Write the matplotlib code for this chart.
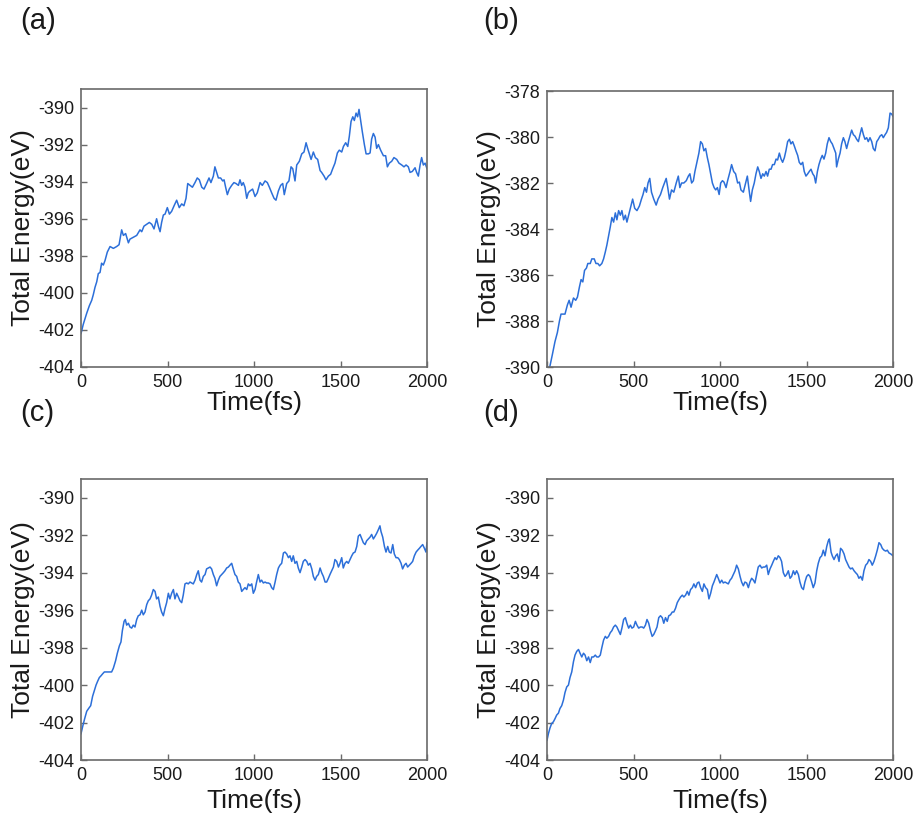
import matplotlib
matplotlib.use("Agg")
import matplotlib.pyplot as plt

plt.rcParams['font.family'] = ['Liberation Sans', 'DejaVu Sans']
plt.rcParams['axes.unicode_minus'] = False

# (time fs, total energy eV)
pts_a = [
    (0, -402.2), (13, -401.7), (33, -401.1), (48, -400.7), (62, -400.4), (71, -400.1), (81, -399.7),
    (91, -399.4), (100, -398.96), (110, -398.9), (119, -398.4), (129, -398.5), (139, -398.25),
    (152, -397.8), (168, -397.5), (187, -397.6), (206, -397.5), (220, -397.4), (235, -396.6),
    (245, -396.9), (258, -396.8), (274, -397.3), (283, -397.1), (303, -397.0), (322, -396.9),
    (341, -396.6), (351, -396.7), (364, -396.4), (380, -396.3), (395, -396.2), (409, -396.3),
    (422, -396.55), (437, -396.0), (447, -396.4), (457, -396.7), (466, -396.2), (476, -395.8),
    (486, -395.75), (499, -395.4), (511, -395.75), (524, -395.6), (538, -395.3), (553, -395.0),
    (568, -395.4), (582, -395.2), (595, -395.3), (607, -394.9), (617, -394.1), (630, -394.2),
    (644, -394.3), (659, -394.05), (672, -393.8), (684, -393.9), (698, -394.3), (711, -394.4),
    (726, -394.1), (740, -393.8), (751, -394.05), (765, -393.7), (774, -393.2), (784, -393.5),
    (794, -393.8), (807, -393.8), (819, -393.96), (827, -393.9), (836, -394.3), (846, -394.7),
    (857, -394.4), (871, -394.2), (884, -394.05), (896, -394.1), (910, -394.2), (919, -393.9),
    (929, -394.2), (938, -394.05), (948, -394.3), (958, -394.9), (967, -394.6), (977, -394.5),
    (992, -394.4), (1006, -394.8), (1019, -394.6), (1035, -394.05), (1048, -394.2), (1064, -393.96),
    (1077, -394.05), (1089, -394.3), (1102, -394.6), (1116, -394.9), (1127, -395.0), (1141, -394.5),
    (1154, -394.2), (1166, -394.1), (1175, -394.7), (1189, -394.1), (1202, -393.96), (1214, -393.2),
    (1224, -393.3), (1237, -393.96), (1247, -393.1), (1262, -392.9), (1276, -392.5), (1289, -392.4),
    (1301, -391.9), (1310, -392.2), (1320, -392.5), (1330, -392.8), (1343, -392.4), (1355, -392.7),
    (1368, -392.8), (1382, -393.4), (1391, -393.5), (1405, -393.7), (1416, -393.9), (1430, -393.7),
    (1443, -393.6), (1455, -393.3), (1468, -393.0), (1482, -392.45), (1493, -392.3), (1507, -392.4),
    (1517, -392.1), (1530, -391.9), (1542, -392.1), (1551, -391.55), (1561, -390.75), (1571, -390.5),
    (1580, -390.7), (1590, -390.3), (1599, -390.5), (1607, -390.1), (1617, -390.75), (1626, -391.3),
    (1638, -392.0), (1648, -392.5), (1661, -392.5), (1671, -392.45), (1680, -391.7), (1690, -391.4),
    (1700, -391.6), (1709, -392.2), (1719, -392.0), (1732, -392.3), (1748, -392.6), (1761, -392.6),
    (1771, -393.2), (1782, -393.0), (1796, -392.9), (1809, -392.7), (1825, -392.8), (1838, -393.0),
    (1854, -393.1), (1867, -393.2), (1879, -393.1), (1892, -393.2), (1902, -393.5), (1915, -393.45),
    (1931, -393.25), (1940, -393.5), (1950, -393.7), (1960, -393.1), (1969, -392.7), (1979, -393.1),
    (1989, -393.0), (2000, -393.3),
]

pts_b = [
    (0, -390.4), (17, -389.96), (31, -389.46), (46, -388.9), (60, -388.5), (72, -388.0), (81, -387.7),
    (95, -387.7), (104, -387.7), (118, -387.3), (128, -387.1), (139, -387.4), (153, -387.0),
    (166, -387.1), (176, -386.96), (188, -386.5), (197, -386.2), (207, -386.3), (217, -385.8),
    (228, -385.7), (236, -385.5), (250, -385.5), (259, -385.3), (273, -385.3), (283, -385.5),
    (294, -385.5), (304, -385.6), (317, -385.5), (327, -385.3), (337, -385.0), (346, -384.7),
    (356, -384.3), (366, -383.9), (375, -383.5), (385, -383.7), (395, -383.3), (404, -383.6),
    (414, -383.2), (424, -383.4), (433, -383.2), (443, -383.6), (453, -383.4), (462, -383.7),
    (472, -383.4), (482, -383.1), (495, -382.7), (507, -383.1), (520, -383.2), (534, -383.0),
    (546, -382.7), (555, -382.5), (565, -382.2), (575, -382.4), (584, -382.0), (594, -381.8),
    (604, -382.4), (617, -382.7), (631, -382.96), (642, -382.7), (656, -382.5), (669, -382.2),
    (679, -382.0), (689, -381.8), (698, -382.2), (708, -382.7), (720, -382.3), (733, -382.4),
    (747, -382.0), (759, -381.7), (768, -382.2), (778, -382.0), (791, -382.0), (805, -381.9),
    (817, -381.7), (826, -381.6), (836, -382.0), (846, -381.9), (855, -381.5), (869, -381.0),
    (878, -380.7), (888, -380.2), (898, -380.3), (907, -380.6), (917, -380.5), (927, -380.9),
    (936, -381.2), (946, -381.6), (956, -382.0), (966, -382.2), (975, -382.3), (985, -382.2),
    (995, -382.5), (1004, -382.0), (1014, -381.9), (1023, -381.96), (1035, -382.2), (1044, -381.9),
    (1058, -381.5), (1067, -381.2), (1079, -381.5), (1090, -381.6), (1102, -382.0), (1112, -381.96),
    (1121, -382.3), (1135, -382.4), (1148, -382.0), (1158, -381.7), (1168, -382.3), (1177, -382.8),
    (1187, -382.3), (1198, -382.0), (1208, -381.6), (1218, -381.3), (1227, -381.5), (1237, -381.8),
    (1247, -381.6), (1256, -381.7), (1266, -381.5), (1275, -381.7), (1285, -381.4), (1295, -381.4),
    (1304, -381.2), (1314, -381.2), (1324, -380.96), (1333, -381.0), (1343, -380.7), (1353, -380.96),
    (1362, -381.1), (1372, -380.9), (1381, -380.6), (1391, -380.2), (1401, -380.1), (1410, -380.3),
    (1420, -380.2), (1430, -380.4), (1439, -380.6), (1449, -380.8), (1458, -381.1), (1468, -381.2),
    (1478, -381.1), (1487, -381.5), (1497, -381.7), (1507, -381.6), (1516, -381.5), (1526, -381.4),
    (1536, -381.6), (1545, -381.7), (1553, -382.0), (1563, -381.5), (1572, -381.2), (1582, -380.96),
    (1591, -380.8), (1601, -380.96), (1611, -380.7), (1620, -380.3), (1630, -380.03), (1640, -380.2),
    (1649, -380.3), (1659, -380.5), (1669, -380.7), (1674, -381.3), (1684, -380.96), (1694, -380.7),
    (1703, -380.3), (1713, -380.03), (1722, -380.2), (1732, -380.5), (1742, -380.2), (1751, -379.96),
    (1761, -379.7), (1771, -379.9), (1780, -379.96), (1790, -380.1), (1800, -380.2), (1809, -379.9),
    (1819, -379.6), (1829, -379.9), (1838, -380.1), (1848, -380.03), (1857, -380.2), (1867, -380.03),
    (1877, -380.2), (1886, -380.5), (1896, -380.6), (1906, -380.2), (1915, -380.1), (1925, -379.96),
    (1935, -379.9), (1944, -380.03), (1954, -379.9), (1963, -379.8), (1973, -379.6), (1983, -378.96),
    (1992, -379.0), (2000, -379.1),
]

pts_c = [
    (0, -402.6), (10, -402.2), (21, -401.8), (33, -401.4), (44, -401.25), (56, -401.1), (67, -400.6),
    (77, -400.3), (87, -400.0), (96, -399.8), (106, -399.6), (116, -399.5), (125, -399.4),
    (135, -399.3), (148, -399.3), (164, -399.3), (177, -399.3), (187, -399.1), (200, -398.7),
    (210, -398.3), (222, -397.9), (231, -397.7), (239, -397.1), (249, -396.6), (256, -396.5),
    (264, -396.8), (274, -396.7), (283, -396.9), (293, -396.96), (302, -396.8), (312, -396.9),
    (322, -396.5), (331, -396.3), (341, -396.25), (351, -396.0), (360, -396.25), (370, -396.1),
    (380, -395.7), (389, -395.5), (399, -395.4), (408, -395.2), (418, -394.9), (428, -395.0),
    (437, -395.4), (447, -395.3), (457, -395.8), (466, -396.1), (476, -396.3), (486, -395.9),
    (495, -395.6), (505, -395.1), (514, -395.4), (524, -395.1), (534, -394.9), (543, -395.4),
    (553, -395.1), (563, -395.3), (572, -395.5), (582, -395.6), (591, -395.2), (601, -394.6),
    (611, -394.55), (620, -394.6), (630, -394.5), (640, -394.55), (649, -394.6), (659, -394.4),
    (669, -394.1), (678, -393.9), (688, -394.4), (697, -394.5), (707, -394.2), (717, -394.1),
    (726, -393.8), (736, -393.75), (746, -393.7), (755, -393.8), (765, -394.1), (774, -394.3),
    (784, -394.7), (794, -394.4), (803, -394.2), (813, -394.1), (823, -394.0), (832, -393.9),
    (842, -393.75), (852, -393.7), (861, -393.6), (871, -393.5), (880, -393.8), (890, -394.1),
    (900, -394.2), (909, -394.5), (919, -394.6), (929, -395.0), (938, -394.9), (948, -394.8),
    (958, -394.9), (967, -394.6), (977, -394.7), (987, -394.6), (996, -395.1), (1006, -394.9),
    (1015, -394.5), (1025, -394.1), (1035, -394.5), (1044, -394.4), (1054, -394.55), (1064, -394.5),
    (1073, -394.55), (1083, -394.55), (1093, -394.6), (1102, -394.8), (1112, -394.9), (1122, -394.5),
    (1131, -394.1), (1141, -393.75), (1150, -393.6), (1160, -393.5), (1170, -392.95), (1179, -392.9),
    (1189, -393.0), (1199, -393.2), (1208, -393.1), (1218, -393.4), (1227, -393.1), (1237, -393.5),
    (1247, -393.4), (1256, -393.75), (1266, -394.0), (1276, -393.7), (1285, -393.4), (1295, -393.3),
    (1305, -393.4), (1314, -393.6), (1324, -393.5), (1334, -393.8), (1343, -394.2), (1353, -394.4),
    (1362, -394.2), (1372, -394.1), (1382, -393.75), (1391, -394.0), (1401, -394.2), (1411, -394.5),
    (1420, -394.5), (1430, -394.3), (1439, -394.1), (1449, -393.9), (1459, -393.7), (1468, -393.3),
    (1478, -393.4), (1488, -393.7), (1497, -393.5), (1507, -393.2), (1516, -393.75), (1526, -393.5),
    (1536, -393.4), (1545, -393.5), (1555, -393.3), (1565, -393.1), (1574, -392.95), (1584, -392.9),
    (1594, -392.6), (1603, -392.05), (1613, -391.96), (1623, -392.2), (1632, -392.4), (1642, -392.5),
    (1651, -392.3), (1661, -392.2), (1671, -392.1), (1680, -391.96), (1690, -392.2), (1700, -392.05),
    (1709, -391.9), (1719, -391.7), (1728, -391.5), (1734, -391.8), (1744, -392.1), (1754, -392.6),
    (1763, -392.9), (1773, -392.6), (1782, -392.9), (1792, -392.95), (1802, -392.5), (1811, -393.0),
    (1821, -393.2), (1831, -393.2), (1840, -393.3), (1850, -393.5), (1859, -393.8), (1869, -393.6),
    (1879, -393.5), (1888, -393.7), (1898, -393.6), (1908, -393.5), (1917, -393.4), (1927, -393.1),
    (1937, -392.9), (1946, -392.8), (1956, -392.7), (1965, -392.6), (1975, -392.5), (1985, -392.7),
    (1994, -392.9), (2000, -392.4),
]

pts_d = [
    (0, -402.95), (8, -402.6), (17, -402.3), (27, -402.05), (37, -401.96), (46, -401.8), (56, -401.6),
    (66, -401.5), (75, -401.25), (85, -401.1), (95, -400.8), (104, -400.4), (114, -400.1),
    (124, -400.0), (133, -399.6), (143, -399.3), (153, -398.75), (162, -398.4), (172, -398.2),
    (182, -398.1), (191, -398.3), (201, -398.5), (211, -398.3), (220, -398.4), (230, -398.7),
    (240, -398.5), (250, -398.8), (259, -398.5), (269, -398.5), (279, -398.4), (288, -398.5),
    (298, -398.5), (308, -398.4), (317, -398.0), (327, -397.6), (337, -397.4), (346, -397.5),
    (356, -397.4), (366, -397.2), (375, -397.1), (385, -396.9), (395, -396.8), (404, -396.9),
    (414, -397.1), (424, -397.3), (433, -396.96), (443, -396.5), (453, -396.4), (462, -396.7),
    (472, -396.96), (482, -396.8), (491, -396.96), (501, -396.9), (511, -396.6), (520, -396.8),
    (530, -396.96), (540, -396.9), (550, -396.9), (559, -396.96), (569, -396.8), (578, -396.5),
    (588, -396.7), (598, -397.1), (608, -397.4), (617, -397.3), (627, -397.1), (636, -396.9),
    (646, -396.4), (656, -396.3), (666, -396.4), (675, -396.7), (685, -396.4), (695, -396.6),
    (704, -396.3), (714, -396.25), (724, -396.1), (733, -396.1), (743, -395.9), (753, -395.6),
    (762, -395.45), (772, -395.3), (782, -395.2), (791, -395.3), (801, -395.2), (811, -395.0),
    (820, -395.2), (830, -394.9), (840, -394.8), (849, -394.6), (859, -394.8), (869, -394.55),
    (878, -394.5), (888, -394.8), (898, -395.0), (907, -394.6), (917, -394.8), (927, -394.9),
    (936, -395.4), (946, -395.1), (956, -394.7), (965, -394.5), (981, -394.1), (990, -394.3),
    (1000, -394.55), (1010, -394.4), (1019, -394.55), (1029, -394.5), (1038, -394.55), (1048, -394.6),
    (1058, -394.4), (1067, -394.3), (1077, -394.1), (1087, -393.9), (1096, -393.6), (1106, -393.8),
    (1116, -394.2), (1125, -394.5), (1135, -394.7), (1144, -394.5), (1154, -394.55), (1164, -394.8),
    (1173, -394.5), (1183, -394.3), (1193, -394.4), (1202, -394.55), (1212, -394.1), (1221, -393.7),
    (1231, -393.6), (1241, -393.75), (1250, -393.7), (1260, -393.7), (1270, -393.6), (1279, -394.1),
    (1289, -393.8), (1299, -393.6), (1308, -393.4), (1318, -393.2), (1327, -393.3), (1337, -393.1),
    (1347, -393.2), (1356, -393.4), (1366, -394.0), (1376, -394.2), (1385, -394.1), (1395, -393.9),
    (1405, -394.3), (1414, -394.2), (1424, -393.9), (1433, -394.1), (1443, -393.9), (1453, -394.1),
    (1462, -394.5), (1472, -394.8), (1482, -394.9), (1491, -394.5), (1501, -394.2), (1511, -394.1),
    (1520, -394.2), (1530, -394.5), (1539, -394.8), (1549, -394.55), (1559, -393.9), (1568, -393.5),
    (1578, -393.2), (1588, -393.1), (1597, -392.8), (1607, -393.1), (1617, -392.6), (1626, -392.3),
    (1632, -392.2), (1642, -392.9), (1649, -393.1), (1659, -393.3), (1669, -393.1), (1678, -393.0),
    (1688, -393.4), (1697, -392.7), (1707, -392.8), (1717, -393.0), (1726, -393.3), (1736, -393.5),
    (1746, -393.7), (1755, -393.8), (1765, -393.75), (1775, -393.9), (1784, -394.0), (1794, -394.1),
    (1803, -394.3), (1813, -394.2), (1823, -394.4), (1832, -393.9), (1842, -393.6), (1852, -393.5),
    (1861, -393.3), (1871, -393.4), (1880, -393.6), (1890, -393.4), (1900, -393.1), (1909, -392.8),
    (1919, -392.4), (1929, -392.5), (1938, -392.7), (1948, -392.8), (1958, -392.85), (1967, -392.8),
    (1977, -392.95), (1987, -393.0), (2000, -393.1),
]

panel_names = ['(a)', '(b)', '(c)', '(d)']
ylims = [(-404, -389), (-390, -378), (-404, -389), (-404, -389)]
yticks = [range(-404, -389, 2), range(-390, -377, 2), range(-404, -389, 2), range(-404, -389, 2)]
xticks = [0, 500, 1000, 1500, 2000]

W, H = 917, 825
# axes boxes in pixels: left, top, right, bottom
boxes = [(81, 89, 427, 367), (547, 91, 893, 367), (81, 479, 427, 760), (547, 479, 893, 760)]
label_pos = [(20, 21), (483, 21), (20, 413), (483, 413)]
ylabel_right = [35, 501, 35, 501]
xlabel_top = [391, 391, 789, 789]

line_color = '#2c6fd9'
frame_color = '#6a6a6a'
text_color = '#1a1a1a'

fig = plt.figure(figsize=(W / 100, H / 100), dpi=100)

for i, pts in enumerate([pts_a, pts_b, pts_c, pts_d]):
    l, t, r, b = boxes[i]
    ax = fig.add_axes([l / W, 1 - b / H, (r - l) / W, (b - t) / H])
    tt = [p[0] for p in pts]
    ee = [p[1] for p in pts]
    ax.plot(tt, ee, color=line_color, lw=1.1)
    ax.set_xlim(0, 2000)
    ax.set_ylim(*ylims[i])
    ax.set_xticks(xticks)
    ax.set_yticks(list(yticks[i]))
    ax.tick_params(direction='in', length=4, width=1, color=frame_color,
                   labelsize=13, labelcolor=text_color, pad=5)
    for s in ax.spines.values():
        s.set_color(frame_color)
        s.set_linewidth(1.2)
    ax.set_xlabel('Time(fs)', fontsize=19, color=text_color)
    ax.set_ylabel('Total Energy(eV)', fontsize=19, color=text_color)
    ax.xaxis.set_label_coords(0.5, -(xlabel_top[i] - b) / (b - t))
    ax.yaxis.set_label_coords(-(l - ylabel_right[i]) / (r - l), 0.5)
    lx, ly = label_pos[i]
    fig.text(lx / W, 1 - ly / H, panel_names[i], fontsize=21, ha='left', va='center', color=text_color)

fig.savefig('out.png', dpi=100)
